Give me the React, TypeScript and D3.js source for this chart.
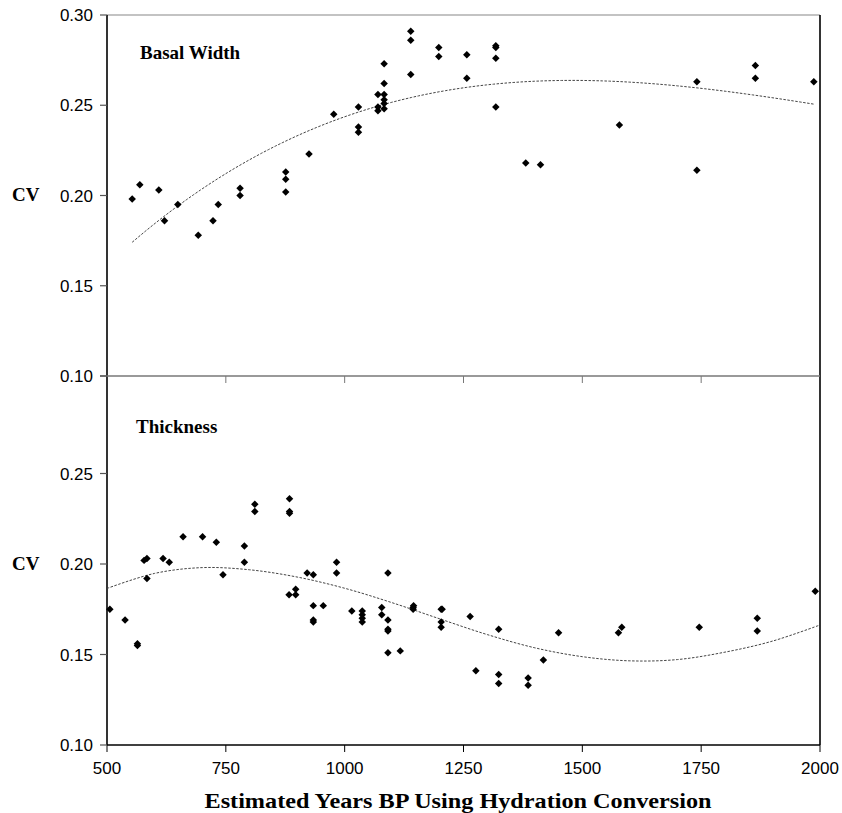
import React, { useEffect, useRef } from 'react';
import * as d3 from 'd3';

// Basal width CV by estimated age
const basalYears = [553, 569, 609, 621, 649, 692, 723, 734, 780, 780, 876, 876, 876, 925, 977, 1029, 1029, 1029, 1070, 1070, 1070, 1083, 1083, 1083, 1083, 1083, 1083, 1139, 1139, 1139, 1198, 1198, 1257, 1257, 1318, 1318, 1318, 1318, 1381, 1412, 1578, 1741, 1741, 1864, 1864, 1987];
const basalCV = [0.198, 0.206, 0.203, 0.186, 0.195, 0.178, 0.186, 0.195, 0.204, 0.200, 0.213, 0.209, 0.202, 0.223, 0.245, 0.249, 0.238, 0.235, 0.256, 0.249, 0.247, 0.273, 0.262, 0.256, 0.253, 0.251, 0.248, 0.291, 0.286, 0.267, 0.282, 0.277, 0.278, 0.265, 0.283, 0.282, 0.276, 0.249, 0.218, 0.217, 0.239, 0.263, 0.214, 0.272, 0.265, 0.263];

// Thickness CV by estimated age
const thickYears = [506, 538, 564, 564, 578, 584, 584, 618, 631, 660, 701, 730, 744, 789, 789, 811, 811, 884, 884, 884, 883, 897, 897, 921, 934, 934, 934, 934, 955, 983, 983, 1015, 1037, 1037, 1037, 1037, 1078, 1078, 1091, 1091, 1091, 1091, 1091, 1117, 1144, 1144, 1145, 1203, 1205, 1203, 1203, 1264, 1276, 1324, 1324, 1324, 1386, 1386, 1418, 1450, 1576, 1583, 1746, 1868, 1868, 1990];
const thickCV = [0.175, 0.169, 0.156, 0.155, 0.202, 0.203, 0.192, 0.203, 0.201, 0.215, 0.215, 0.212, 0.194, 0.210, 0.201, 0.233, 0.229, 0.236, 0.229, 0.228, 0.183, 0.186, 0.183, 0.195, 0.194, 0.177, 0.168, 0.169, 0.177, 0.201, 0.195, 0.174, 0.174, 0.172, 0.170, 0.168, 0.176, 0.172, 0.195, 0.169, 0.164, 0.163, 0.151, 0.152, 0.176, 0.175, 0.177, 0.175, 0.175, 0.168, 0.165, 0.171, 0.141, 0.164, 0.139, 0.134, 0.137, 0.133, 0.147, 0.162, 0.162, 0.165, 0.165, 0.170, 0.163, 0.185];

// thickness trendline
const thickTrendYears = [500, 600, 700, 800, 900, 1000, 1100, 1200, 1300, 1400, 1500, 1600, 1700, 1800, 1900, 2000];
const thickTrendCV = [0.1865, 0.1948, 0.1980, 0.1968, 0.1928, 0.1866, 0.1786, 0.1697, 0.1610, 0.1537, 0.1488, 0.1465, 0.1472, 0.1513, 0.1574, 0.1663];

const xTicks = [500, 750, 1000, 1250, 1500, 1750, 2000];
const topYTicks = [0.10, 0.15, 0.20, 0.25, 0.30];
const bottomYTicks = [0.10, 0.15, 0.20, 0.25];

// least squares cubic trendline (like Excel's polynomial trendline)
const cubicFit = (xs: number[], ys: number[]) => {
  const c = 1250, s = 750;
  const n = 4;
  const A = Array.from({ length: n }, () => new Array(n + 1).fill(0));
  xs.forEach((x, k) => {
    const t = (x - c) / s;
    const p = [1, t, t * t, t * t * t];
    for (let i = 0; i < n; i++) {
      for (let j = 0; j < n; j++) A[i][j] += p[i] * p[j];
      A[i][n] += p[i] * ys[k];
    }
  });
  for (let i = 0; i < n; i++) {
    let m = i;
    for (let r = i + 1; r < n; r++) if (Math.abs(A[r][i]) > Math.abs(A[m][i])) m = r;
    [A[i], A[m]] = [A[m], A[i]];
    for (let r = 0; r < n; r++) {
      if (r === i) continue;
      const f = A[r][i] / A[i][i];
      for (let j = i; j <= n; j++) A[r][j] -= f * A[i][j];
    }
  }
  const b = A.map((row, i) => row[n] / row[i]);
  return (x: number) => {
    const t = (x - c) / s;
    return b[0] + b[1] * t + b[2] * t * t + b[3] * t * t * t;
  };
};

const App = () => {
  const chartRef = useRef<SVGSVGElement>(null);

  useEffect(() => {
    const width = 842;
    const height = 813;
    const left = 107, right = 820;
    const top = 15, mid = 376, bottom = 745;

    const svg = d3.select(chartRef.current)
      .attr('width', width)
      .attr('height', height);
    svg.selectAll('*').remove();

    svg.append('rect').attr('width', width).attr('height', height).attr('fill', 'white');

    const x = d3.scaleLinear().domain([500, 2000]).range([left, right]);
    const yTop = d3.scaleLinear().domain([0.10, 0.30]).range([mid, top]);
    const yBot = d3.scaleLinear().domain([0.10, 0.30]).range([bottom, 383]);

    const tickFont = '"Liberation Sans", Arial, sans-serif';
    const serif = '"Liberation Serif", "Times New Roman", serif';

    // frame
    svg.append('line').attr('x1', left).attr('x2', right).attr('y1', top).attr('y2', top)
      .attr('stroke', '#888').attr('stroke-width', 1.2);
    svg.append('line').attr('x1', right).attr('x2', right).attr('y1', top).attr('y2', bottom)
      .attr('stroke', '#000').attr('stroke-width', 1.6);
    svg.append('line').attr('x1', left).attr('x2', left).attr('y1', top).attr('y2', bottom)
      .attr('stroke', '#000').attr('stroke-width', 1.6);
    svg.append('line').attr('x1', left - 7).attr('x2', right).attr('y1', mid).attr('y2', mid)
      .attr('stroke', '#777').attr('stroke-width', 1.4);
    svg.append('line').attr('x1', left).attr('x2', right).attr('y1', bottom).attr('y2', bottom)
      .attr('stroke', '#000').attr('stroke-width', 1.4);

    // top panel's x ticks (labels hidden), pointing down from divider
    svg.selectAll('.midtick')
      .data(xTicks.slice(1, -1))
      .enter()
      .append('line')
      .attr('x1', d => x(d)).attr('x2', d => x(d))
      .attr('y1', mid).attr('y2', mid + 7)
      .attr('stroke', '#777').attr('stroke-width', 1);

    // bottom x ticks + labels
    svg.selectAll('.xtick')
      .data(xTicks)
      .enter()
      .append('line')
      .attr('x1', d => x(d)).attr('x2', d => x(d))
      .attr('y1', bottom).attr('y2', bottom + 7)
      .attr('stroke', '#000').attr('stroke-width', 1);
    svg.selectAll('.xlabel')
      .data(xTicks)
      .enter()
      .append('text')
      .attr('x', d => x(d))
      .attr('y', 774)
      .attr('text-anchor', 'middle')
      .style('font-family', tickFont)
      .style('font-size', '17px')
      .text(d => String(d));

    // y ticks + labels for both panels
    const yAxis = (scale: d3.ScaleLinear<number, number>, ticks: number[]) => {
      svg.append('g').selectAll('line')
        .data(ticks)
        .enter()
        .append('line')
        .attr('x1', left - 7).attr('x2', left)
        .attr('y1', d => scale(d)).attr('y2', d => scale(d))
        .attr('stroke', '#555').attr('stroke-width', 1.2);
      svg.append('g').selectAll('text')
        .data(ticks)
        .enter()
        .append('text')
        .attr('x', 93)
        .attr('y', d => scale(d) + 6)
        .attr('text-anchor', 'end')
        .style('font-family', tickFont)
        .style('font-size', '17px')
        .text(d => d3.format('.2f')(d));
    };
    yAxis(yTop, topYTicks);
    yAxis(yBot, bottomYTicks);

    // CV labels
    [201, 570].forEach(yy => {
      svg.append('text')
        .attr('x', 12)
        .attr('y', yy)
        .style('font-family', serif)
        .style('font-weight', 'bold')
        .style('font-size', '19px')
        .text('CV');
    });

    // panel titles
    svg.append('text').attr('x', 140).attr('y', 59)
      .style('font-family', serif).style('font-weight', 'bold').style('font-size', '19px')
      .text('Basal Width');
    svg.append('text').attr('x', 136).attr('y', 433)
      .style('font-family', serif).style('font-weight', 'bold').style('font-size', '19px')
      .text('Thickness');

    // x axis title
    svg.append('text')
      .attr('x', 458)
      .attr('y', 808)
      .attr('text-anchor', 'middle')
      .attr('textLength', 507)
      .attr('lengthAdjust', 'spacingAndGlyphs')
      .style('font-family', serif)
      .style('font-weight', 'bold')
      .style('font-size', '22px')
      .text('Estimated Years BP Using Hydration Conversion');

    // trendlines
    const trendStyle = (sel: any) => sel
      .attr('fill', 'none')
      .attr('stroke', '#444')
      .attr('stroke-width', 1)
      .attr('stroke-dasharray', '2.5,1.5');

    const fit = cubicFit(basalYears, basalCV);
    const [bx0, bx1] = d3.extent(basalYears) as [number, number];
    const basalTrend = d3.range(0, 101).map(i => bx0 + (bx1 - bx0) * i / 100);
    svg.append('path')
      .datum(basalTrend)
      .attr('d', d3.line<number>().x(d => x(d)).y(d => yTop(fit(d))))
      .call(trendStyle);

    svg.append('path')
      .datum(thickTrendYears.map((v, i) => [v, thickTrendCV[i]]))
      .attr('d', d3.line<number[]>()
        .x(d => x(d[0]))
        .y(d => yBot(d[1]))
        .curve(d3.curveCatmullRom))
      .call(trendStyle);

    // markers
    const diamond = d3.symbol().type(d3.symbolSquare).size(28);
    [
      { xs: basalYears, ys: basalCV, y: yTop },
      { xs: thickYears, ys: thickCV, y: yBot },
    ].forEach(p => {
      svg.append('g')
        .selectAll('path')
        .data(p.xs.map((v, i) => [v, p.ys[i]]))
        .enter()
        .append('path')
        .attr('d', diamond)
        .attr('transform', d => `translate(${x(d[0])},${p.y(d[1])}) rotate(45)`)
        .attr('fill', '#000');
    });
  }, []);

  return (
    <div style={{ position: 'absolute', left: 0, top: 0 }}>
      <svg ref={chartRef}></svg>
    </div>
  );
};

export default App;
